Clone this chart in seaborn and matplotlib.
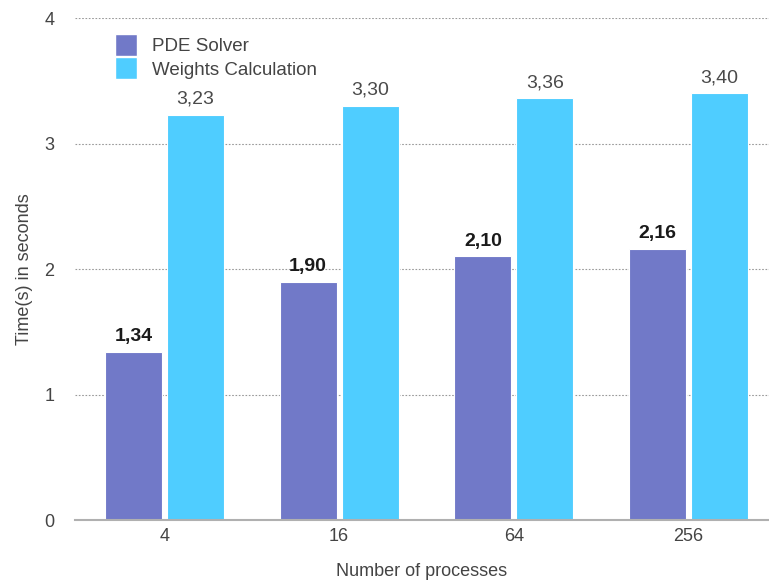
import pandas as pd
import seaborn as sns
import matplotlib.pyplot as plt
from matplotlib.lines import Line2D

processes = ['4', '16', '64', '256']
pde_solver = [1.34, 1.90, 2.10, 2.16]
weights_calc = [3.23, 3.30, 3.36, 3.40]
series = ['PDE Solver', 'Weights Calculation']
colors = ['#7179C8', '#4FCDFF']

df = pd.DataFrame({
    'processes': processes * 2,
    'time': pde_solver + weights_calc,
    'series': [series[0]] * 4 + [series[1]] * 4,
})

sns.set_style('white')
plt.rcParams['font.family'] = ['Liberation Sans', 'DejaVu Sans']

fig = plt.figure(figsize=(7.69, 5.87), dpi=100)
ax = fig.add_axes([0.0975, 0.1141, 0.9025, 0.8552])

sns.barplot(data=df, x='processes', y='time', hue='series', order=processes,
            hue_order=series, palette=colors, width=0.71, gap=0.08,
            edgecolor='white', linewidth=0.8, saturation=1, legend=False, ax=ax)

ax.set_ylim(0, 4)
ax.set_xlim(-0.512, 3.46)
ax.set_yticks([0, 1, 2, 3, 4])
ax.yaxis.grid(True, linestyle=(0, (1.5, 1.5)), color='#9a9a9a', linewidth=0.8)
ax.set_axisbelow(True)
for s in ['top', 'right', 'left']:
    ax.spines[s].set_visible(False)
ax.spines['bottom'].set_color('#b0b0b0')
ax.spines['bottom'].set_linewidth(1.5)
ax.tick_params(axis='both', length=0, labelsize=13, labelcolor='#444444')
ax.tick_params(axis='y', pad=15)
ax.tick_params(axis='x', pad=6)

ax.set_xlabel('Number of processes', fontsize=13, color='#444444', labelpad=13)
ax.set_ylabel('Time(s) in seconds', fontsize=13, color='#444444', labelpad=8)

fmt = lambda v: f'{v:.2f}'.replace('.', ',')
ax.bar_label(ax.containers[0], labels=[fmt(v) for v in pde_solver], padding=5,
             fontsize=14, fontweight='bold', color='#1a1a1a')
ax.bar_label(ax.containers[1], labels=[fmt(v) for v in weights_calc], padding=5,
             fontsize=14, color='#4a4a4a')

handles = [Line2D([], [], marker='s', linestyle='', markersize=16,
                  markerfacecolor=c, markeredgecolor='white') for c in colors]
ax.legend(handles, series, loc='upper left', bbox_to_anchor=(0.035, 0.975),
          frameon=False, fontsize=13.5, labelcolor='#444444',
          handletextpad=0.4, labelspacing=0.35, borderaxespad=0)

plt.savefig('out.png', dpi=100)
